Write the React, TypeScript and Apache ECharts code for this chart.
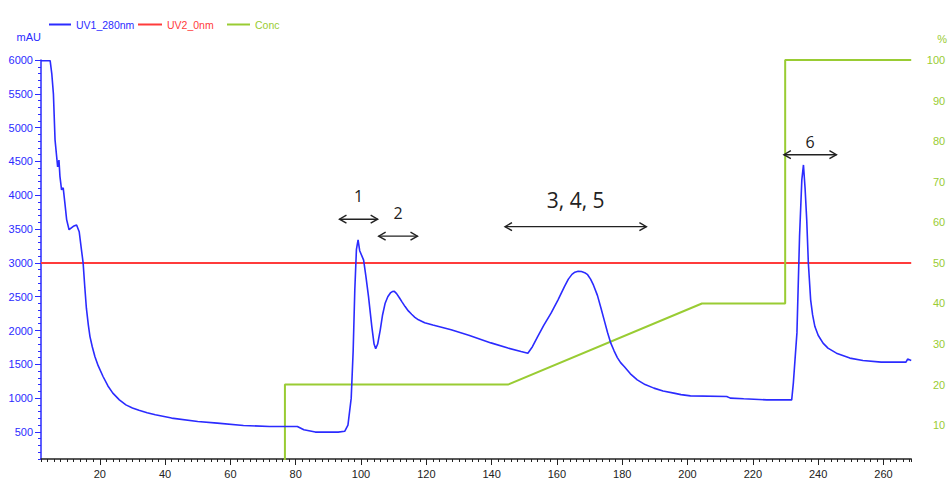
import React, { useEffect, useRef } from "react";
import * as echarts from "echarts";

const xLabels = [20, 40, 60, 80, 100, 120, 140, 160, 180, 200, 220, 240, 260];
const leftLabels = [500, 1000, 1500, 2000, 2500, 3000, 3500, 4000, 4500, 5000, 5500, 6000];
const rightLabels = [10, 20, 30, 40, 50, 60, 70, 80, 90, 100];

const uv1: [number, number][] = [
  [2, 5990], [4.8, 5990], [5.3, 5800], [5.8, 5500], [6.3, 4820], [6.8, 4570], [7.1, 4420],
  [7.5, 4520], [7.8, 4280], [8.3, 4080], [8.8, 4110], [9.3, 3890], [9.85, 3640], [10.6, 3490],
  [11.9, 3540], [12.9, 3560], [13.7, 3460], [14.4, 3190], [14.9, 3000], [15.4, 2650],
  [15.9, 2330], [16.5, 2080], [17, 1910], [17.7, 1760], [18.5, 1615], [19.5, 1480], [21, 1320],
  [22.5, 1180], [24, 1074], [26, 975], [28, 900], [30, 855], [32, 820], [34.5, 785], [37, 753],
  [42, 705], [50, 655], [56, 630], [64, 595], [72, 581], [80.5, 581], [82.5, 532],
  [86, 498], [93, 498], [95, 510], [96, 600], [97, 1000], [97.6, 1700], [98.1, 2600],
  [98.6, 3200], [99.1, 3340], [99.6, 3180], [100.8, 3040], [101.5, 2800], [102.3, 2500],
  [103.3, 2060], [104, 1800], [104.5, 1730], [105.1, 1800], [105.9, 2010], [106.6, 2230],
  [107.4, 2404], [108.2, 2500], [109, 2555], [109.6, 2576], [110.2, 2578], [110.9, 2545],
  [111.8, 2480], [112.6, 2420], [113.5, 2354], [114.5, 2290], [115.5, 2240], [116.5, 2195],
  [117.6, 2158], [119.5, 2115], [122, 2080], [127.6, 2010], [133, 1930], [139.8, 1817],
  [145, 1740], [149, 1690], [151.1, 1665], [152.5, 1760], [154.1, 1911], [156, 2080],
  [158.2, 2257], [160.3, 2450], [162.3, 2650], [163.5, 2760], [164.6, 2830], [165.5, 2862],
  [166.5, 2876], [167.5, 2872], [168.5, 2855], [169.4, 2825], [170.3, 2760], [171.2, 2670],
  [172.4, 2520], [173.5, 2330], [174.5, 2150], [175.5, 1970], [176.5, 1813], [177.5, 1700],
  [178.5, 1600], [179.5, 1525], [180.6, 1467], [182.5, 1360], [184.6, 1271], [187, 1200],
  [189.7, 1148], [192.5, 1105], [195.8, 1074], [198, 1052], [200.9, 1034], [212, 1024],
  [213.1, 1000], [217.2, 990], [224.3, 975], [231.9, 975], [232.4, 1222], [233.5, 1965],
  [234.3, 3389], [235, 4227], [235.5, 4448], [236, 4100], [236.5, 3636], [237, 2995],
  [237.7, 2453], [238.3, 2230], [239, 2058], [240, 1930], [241.5, 1813], [243, 1740],
  [245.6, 1665], [249.7, 1592], [253.7, 1556], [259.3, 1532], [266.9, 1532], [267.4, 1577],
  [268.5, 1556],
];

const uv2: [number, number][] = [[2, 3000], [268.5, 3000]];

const conc: [number, number][] = [
  [76.7, 0], [76.7, 20], [145, 20], [204.4, 40], [229.9, 40], [229.9, 100], [268.5, 100],
];

const annotations = [
  { label: "1", x1: 93.4, x2: 105.1, y: 3646, ly: 3990, size: 16 },
  { label: "2", x1: 105.4, x2: 117.3, y: 3395, ly: 3735, size: 16 },
  { label: "3, 4, 5", x1: 144.1, x2: 187.4, y: 3536, ly: 3931, size: 21 },
  { label: "6", x1: 229.5, x2: 245.6, y: 4600, ly: 4793, size: 16 },
];

const BLUE = "#2b2bff";
const RED = "#ff3b3b";
const GREEN = "#99cc33";
const FONT = "'Liberation Sans Narrow', 'Arial Narrow', 'Liberation Sans', sans-serif";
const X_MIN = 2;
const X_MAX = 268.5;
const Y_MIN = 100;
const Y_MAX = 6000;

export default function App() {
  const ref = useRef<HTMLDivElement>(null);
  useEffect(() => {
    if (!ref.current) return;
    const chart = echarts.init(ref.current, undefined, { renderer: "svg" });
    const legendItem = (name: string, color: string, left: number, width: number) => ({
      left,
      top: 14,
      itemWidth: width,
      itemHeight: 2,
      icon: "rect",
      selectedMode: false,
      data: [{ name, textStyle: { color } }],
      textStyle: { fontFamily: FONT, fontSize: 10.5, color, padding: [0, 0, 0, 0] },
    });
    const plain = (v: number) => String(v);
    chart.setOption({
      animation: false,
      backgroundColor: "#ffffff",
      legend: [
        legendItem("UV1_280nm", BLUE, 44, 22),
        legendItem("UV2_0nm", RED, 133, 24),
        legendItem("Conc", GREEN, 222, 23),
      ],
      grid: { left: 41, right: 35, top: 60, bottom: 29, containLabel: false },
      xAxis: [
        {
          type: "value",
          min: X_MIN,
          max: X_MAX,
          position: "bottom",
          axisLine: { show: true, lineStyle: { color: "#222", width: 1.5 } },
          axisTick: { show: true, customValues: xLabels, length: 6, lineStyle: { color: "#222" } },
          axisLabel: { customValues: xLabels, formatter: plain, color: "#222", fontSize: 11, margin: 9, fontFamily: FONT },
          splitLine: { show: false },
        },
        {
          type: "value",
          min: X_MIN,
          max: X_MAX,
          interval: 2,
          position: "bottom",
          axisLine: { show: false },
          axisTick: { show: true, length: 3, lineStyle: { color: "#222" } },
          axisLabel: { show: false },
          splitLine: { show: false },
        },
      ],
      yAxis: [
        {
          type: "value",
          min: Y_MIN,
          max: Y_MAX,
          position: "left",
          name: "mAU",
          nameGap: 18,
          nameTextStyle: { color: BLUE, fontFamily: FONT, fontSize: 11, align: "right" },
          axisLine: { show: true, lineStyle: { color: BLUE, width: 1.5 } },
          axisTick: { show: true, customValues: leftLabels, length: 6, lineStyle: { color: BLUE } },
          axisLabel: { customValues: leftLabels, formatter: plain, color: BLUE, fontSize: 11, margin: 8, fontFamily: FONT },
          splitLine: { show: false },
        },
        {
          type: "value",
          min: Y_MIN,
          max: Y_MAX,
          interval: 100,
          position: "left",
          axisLine: { show: false },
          axisTick: { show: true, length: 3, lineStyle: { color: BLUE } },
          axisLabel: { show: false },
          splitLine: { show: false },
        },
        {
          type: "value",
          min: Y_MIN / 60,
          max: Y_MAX / 60,
          position: "right",
          name: "%",
          nameGap: 16,
          nameTextStyle: { color: GREEN, fontFamily: FONT, fontSize: 11, align: "left", padding: [0, 0, 0, 26] },
          axisLine: { show: false },
          axisTick: { show: false },
          axisLabel: { customValues: rightLabels, formatter: plain, color: GREEN, fontSize: 11, margin: 34, align: "right", fontFamily: FONT },
          splitLine: { show: false },
        },
      ],
      series: [
        {
          name: "UV1_280nm",
          type: "line",
          xAxisIndex: 0,
          yAxisIndex: 0,
          data: uv1,
          showSymbol: false,
          symbol: "none",
          lineStyle: { color: BLUE, width: 1.6 },
          itemStyle: { color: BLUE },
          z: 3,
        },
        {
          name: "UV2_0nm",
          type: "line",
          xAxisIndex: 0,
          yAxisIndex: 0,
          data: uv2,
          symbol: "none",
          lineStyle: { color: RED, width: 2 },
          itemStyle: { color: RED },
          z: 2,
        },
        {
          name: "Conc",
          type: "line",
          xAxisIndex: 0,
          yAxisIndex: 2,
          data: conc,
          symbol: "none",
          lineStyle: { color: GREEN, width: 2 },
          itemStyle: { color: GREEN },
          z: 2,
        },
      ],
    });

    const graphics: any[] = [];
    const stroke = { stroke: "#222", lineWidth: 1.4, fill: "none" };
    annotations.forEach((a) => {
      const p1 = chart.convertToPixel({ xAxisIndex: 0, yAxisIndex: 0 }, [a.x1, a.y]) as number[];
      const p2 = chart.convertToPixel({ xAxisIndex: 0, yAxisIndex: 0 }, [a.x2, a.y]) as number[];
      const pl = chart.convertToPixel({ xAxisIndex: 0, yAxisIndex: 0 }, [(a.x1 + a.x2) / 2, a.ly]) as number[];
      graphics.push({ type: "line", shape: { x1: p1[0], y1: p1[1], x2: p2[0], y2: p2[1] }, style: stroke, z: 10 });
      graphics.push({
        type: "polyline",
        shape: { points: [[p1[0] + 7, p1[1] - 4], [p1[0], p1[1]], [p1[0] + 7, p1[1] + 4]] },
        style: stroke,
        z: 10,
      });
      graphics.push({
        type: "polyline",
        shape: { points: [[p2[0] - 7, p2[1] - 4], [p2[0], p2[1]], [p2[0] - 7, p2[1] + 4]] },
        style: stroke,
        z: 10,
      });
      graphics.push({
        type: "text",
        x: pl[0],
        y: pl[1],
        style: {
          text: a.label,
          fill: "#222",
          font: `${a.size}px 'Open Sans', 'Noto Sans', sans-serif`,
          textAlign: "center",
          textVerticalAlign: "middle",
        },
        z: 10,
      });
    });
    chart.setOption({ graphic: graphics });

    return () => chart.dispose();
  }, []);
  return <div ref={ref} style={{ position: "fixed", left: 0, top: 0, width: 950, height: 488 }} />;
}
